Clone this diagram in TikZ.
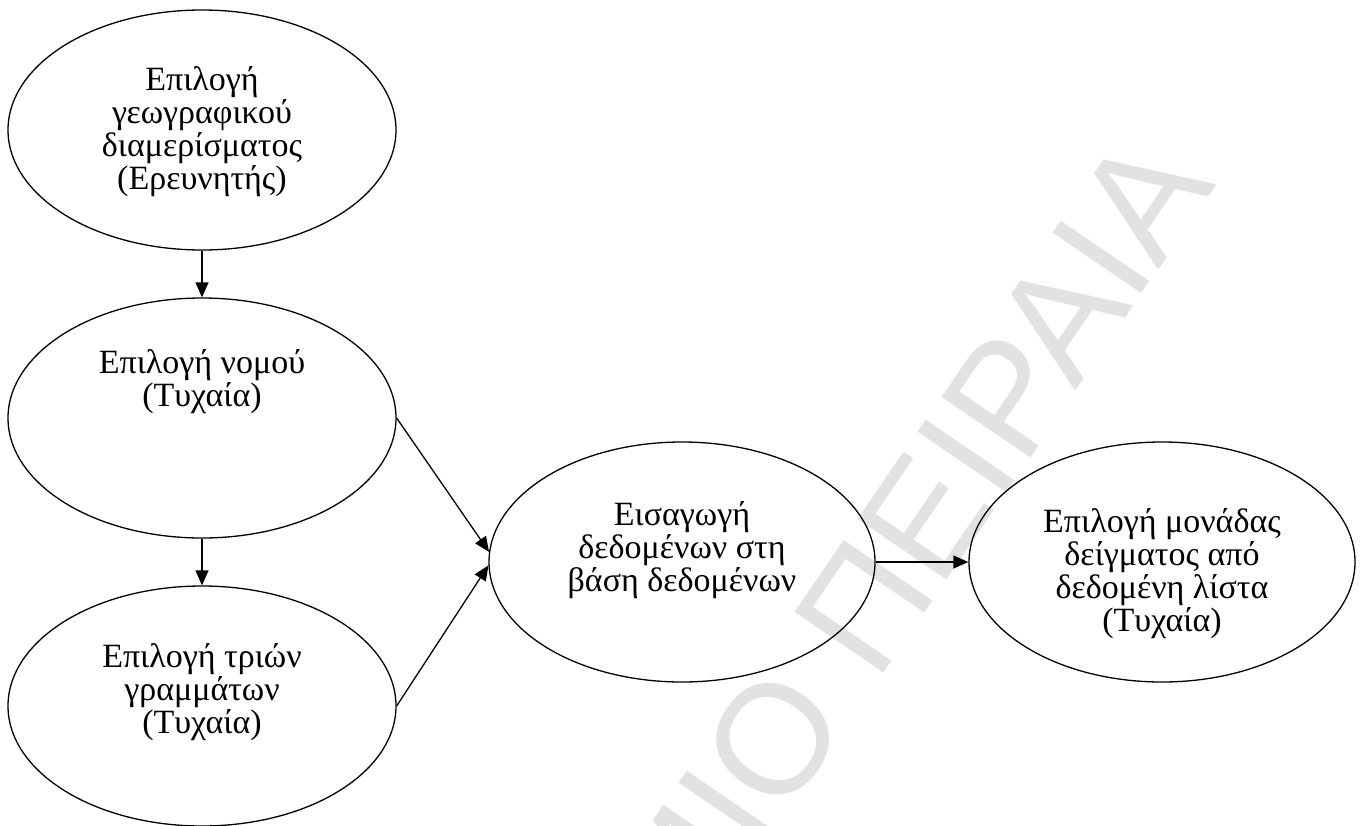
\documentclass[tikz,border=0pt]{standalone}
\usepackage{fontspec}
\setmainfont{Liberation Serif}
\newfontfamily\wmfont{Liberation Sans}
\usetikzlibrary{arrows.meta,shapes.geometric}
\definecolor{wmgray}{RGB}{226,226,226}
\begin{document}
\begin{tikzpicture}[x=1pt,y=-1pt,
  ell/.style={draw, ellipse, line width=1.3pt, minimum width=388pt, minimum height=240pt, inner sep=0pt},
  txt/.style={align=center, font=\fontsize{34}{33}\selectfont, inner sep=0pt},
  conn/.style={line width=1.3pt, -{Triangle[length=15pt,width=13pt]}},
  wm/.style={font=\wmfont\fontsize{156}{160}\selectfont, text=wmgray, inner sep=0pt}]
\useasboundingbox (0,0) rectangle (1364,825);
\clip (0,0) rectangle (1364,825);
\fill[white] (0,0) rectangle (1364,825);
\node[wm, rotate=55.7, anchor=base east] (wm) at (1217,184) {ΠΑΝΕΠΙΣΤΗΜΙΟ ΠΕΙΡΑΙΑ};

\node[ell] (a) at (202,130) {};
\node[txt] (ta) at (202,132) {Επιλογή\\γεωγραφικού\\διαμερίσματος\\(Ερευνητής)};
\node[ell] (b) at (202,418) {};
\node[txt] (tb) at (202,382) {Επιλογή νομού\\(Τυχαία)};
\node[ell] (c) at (202,706) {};
\node[txt] (tc) at (202,692) {Επιλογή τριών\\γραμμάτων\\(Τυχαία)};
\node[ell, minimum width=386pt] (d) at (682,562) {};
\node[txt] (td) at (682,550) {Εισαγωγή\\δεδομένων στη\\βάση δεδομένων};
\node[ell, minimum width=386pt] (e) at (1162,562) {};
\node[txt] (te) at (1162,574) {Επιλογή μονάδας\\δείγματος από\\δεδομένη λίστα\\(Τυχαία)};

\draw[conn] (a.south) -- (b.north);
\draw[conn] (b.south) -- (c.north);
\draw[conn] (b.east) -- (d.177.3);
\draw[conn] (c.east) -- (d.181.8);
\draw[conn] (d.east) -- (e.west);
\end{tikzpicture}
\end{document}
